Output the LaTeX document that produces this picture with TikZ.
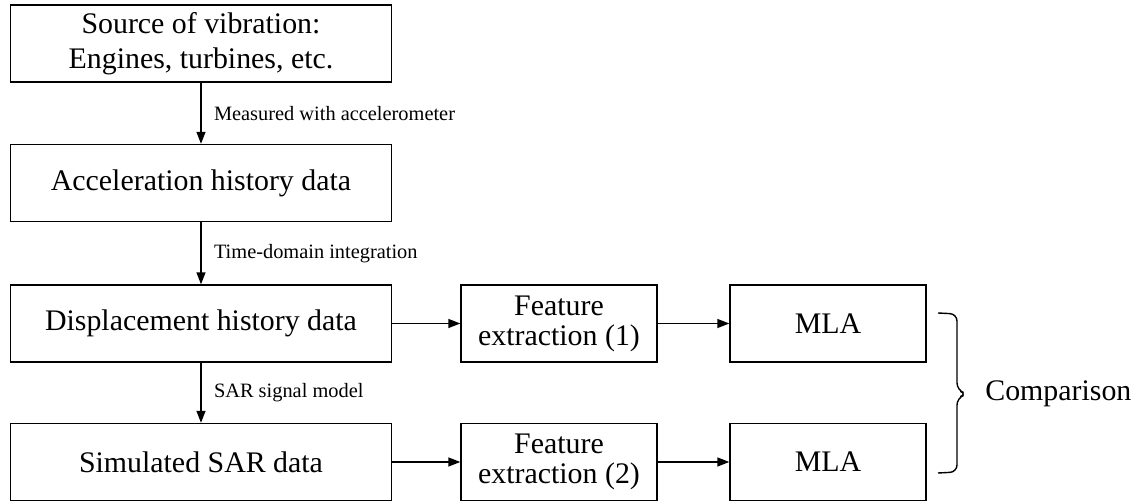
\documentclass[tikz,border=0pt]{standalone}
\usepackage{fontspec}
\setmainfont{Liberation Serif}
\usetikzlibrary{arrows.meta}
\tikzset{
  vib box/.style={
    draw,
    line width=0.8pt,
    minimum width=7.62cm,
    minimum height=1.54cm,
    inner sep=2pt,
    align=center,
    font=\fontsize{17}{20}\selectfont
  },
  vib small/.style={
    vib box,
    minimum width=3.92cm
  },
  vib label/.style={
    font=\fontsize{11.6}{14}\selectfont,
    anchor=west,
    inner sep=0pt
  },
  vib arr/.style={-{Triangle[length=2.4mm,width=1.8mm]}, line width=0.8pt}
}
\begin{document}
\begin{tikzpicture}[x=0.02cm, y=-0.02cm]
  \useasboundingbox (0,0) rectangle (1137,502);

  \node[vib box] (src) at (201,43.5) {Source of vibration:\\Engines, turbines, etc.};
  \node[vib box] (acc) at (201,183) {Acceleration history data};
  \node[vib box] (disp) at (201,323.5) {Displacement history data};
  \node[vib box] (sim) at (201,462) {Simulated SAR data};

  \node[vib small] (feat1) at (559,323.5) {Feature\\[-3pt]extraction (1)};
  \node[vib small] (mla1) at (828,323.5) {MLA};
  \node[vib small] (feat2) at (559,462) {Feature\\[-3pt]extraction (2)};
  \node[vib small] (mla2) at (828,462) {MLA};

  \draw[vib arr] (src) -- (acc)
    node[vib label, midway, xshift=7pt] {Measured with accelerometer};
  \draw[vib arr] (acc) -- (disp)
    node[vib label, midway, xshift=7pt] {Time-domain integration};
  \draw[vib arr] (disp) -- (sim)
    node[vib label, midway, xshift=7pt] {SAR signal model};

  \draw[vib arr] (disp) -- (feat1);
  \draw[vib arr] (feat1) -- (mla1);
  \draw[vib arr] (sim) -- (feat2);
  \draw[vib arr] (feat2) -- (mla2);

  % brace
  \draw[line width=0.8pt, rounded corners=4pt]
    (938,313) -- (957,314) -- (957,390) -- (967,394)
    -- (957,398) -- (957,472) -- (938,473);
  \node[anchor=west, inner sep=0pt, font=\fontsize{17}{20}\selectfont]
    (cmp) at (985,394) {Comparison};
\end{tikzpicture}
\end{document}
